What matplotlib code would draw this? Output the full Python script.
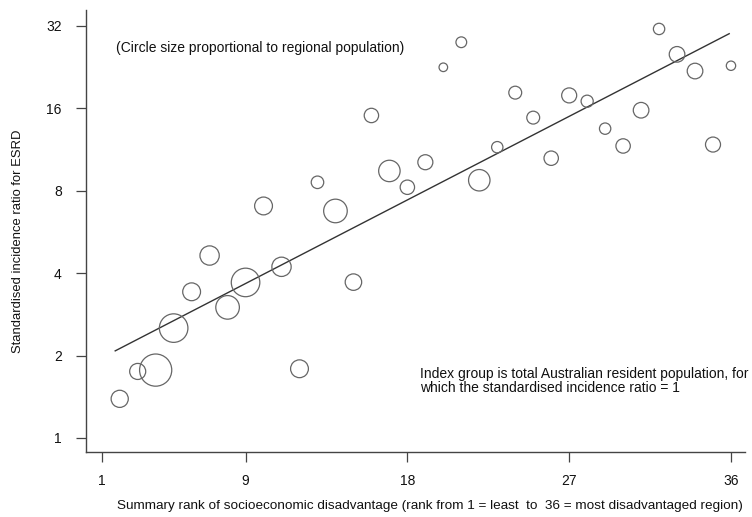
import numpy as np
import matplotlib
matplotlib.use("Agg")
import matplotlib.pyplot as plt

plt.rcParams['font.family'] = ['Liberation Sans', 'DejaVu Sans']

# --- data -------------------------------------------------------------
rank = [2, 3, 4, 5, 6, 7, 8, 9, 10, 11, 12, 13, 14, 15, 16, 17, 18, 19,
        20, 21, 22, 23, 24, 25, 26, 27, 28, 29, 30, 31, 32, 33, 34, 35, 36]
sir = [1.39, 1.75, 1.77, 2.52, 3.42, 4.64, 3.00, 3.70, 7.04, 4.22, 1.79,
       8.59, 6.75, 3.71, 15.07, 9.45, 8.24, 10.17, 22.6, 27.9, 8.74, 11.54,
       18.26, 14.8, 10.52, 17.84, 16.99, 13.49, 11.66, 15.75, 31.2, 25.2,
       21.9, 11.8, 22.9]
# relative regional population (circle area proportional)
population = [64, 56, 225, 177, 69, 81, 121, 177, 69, 81, 69, 34, 121, 59,
              45, 100, 45, 49, 16, 25, 100, 28, 36, 36, 45, 49, 32, 28, 45,
              53, 28, 53, 53, 49, 19]
# fitted regression line (log2 scale)
fit_intercept_log2 = 0.860
fit_slope_log2 = 0.1127
fit_x_range = [1.75, 35.9]

x_ticks = [1, 9, 18, 27, 36]
y_ticks = [1, 2, 4, 8, 16, 32]

# --- figure -----------------------------------------------------------
fig = plt.figure(figsize=(7.52, 5.17), dpi=100)
ax = fig.add_axes([0.114, 0.1263, 0.8767, 0.8544])

sizes = np.array(population) * 4.6 * 0.72**2
ax.scatter(rank, sir, s=sizes, facecolors='none', edgecolors='#666666',
           linewidths=0.9, zorder=3)

fx = np.array(fit_x_range)
fy = 2 ** (fit_intercept_log2 + fit_slope_log2 * fx)
ax.plot(fx, fy, color='#333333', lw=1.0, zorder=2)

ax.set_yscale('log', base=2)
ax.set_xlim(0.11, 36.78)
ax.set_ylim(0.891, 36.6)
ax.set_xticks(x_ticks)
ax.set_xticklabels([str(t) for t in x_ticks])
ax.set_yticks(y_ticks)
ax.set_yticklabels([str(t) for t in y_ticks])
ax.yaxis.set_minor_locator(matplotlib.ticker.NullLocator())
ax.xaxis.set_minor_locator(matplotlib.ticker.NullLocator())

for s in ['top', 'right']:
    ax.spines[s].set_visible(False)
for s in ['left', 'bottom']:
    ax.spines[s].set_color('#444444')
    ax.spines[s].set_linewidth(1.0)

ax.tick_params(axis='both', direction='out', length=7.2, width=0.9,
               color='#444444', labelsize=10, labelcolor='#111111')
ax.tick_params(axis='x', pad=9)
ax.tick_params(axis='y', pad=10)

fig.text(430 / 752, 1 - 506 / 517,
         'Summary rank of socioeconomic disadvantage (rank from 1 = least  to  36 = most disadvantaged region)',
         fontsize=9.7, color='#111111', ha='center', va='center')
fig.text(18 / 752, 1 - 241 / 517, 'Standardised incidence ratio for ESRD',
         fontsize=9.4, color='#111111', rotation=90, ha='center', va='center')

fig.text(116 / 752, 1 - 48 / 517, '(Circle size proportional to regional population)',
         fontsize=10, color='#111111', ha='left', va='center')
fig.text(420 / 752, 1 - 381 / 517,
         'Index group is total Australian resident population, for\nwhich the standardised incidence ratio = 1',
         fontsize=10, color='#111111', ha='left', va='center', linespacing=1.05)

fig.savefig('out.png', dpi=100)
